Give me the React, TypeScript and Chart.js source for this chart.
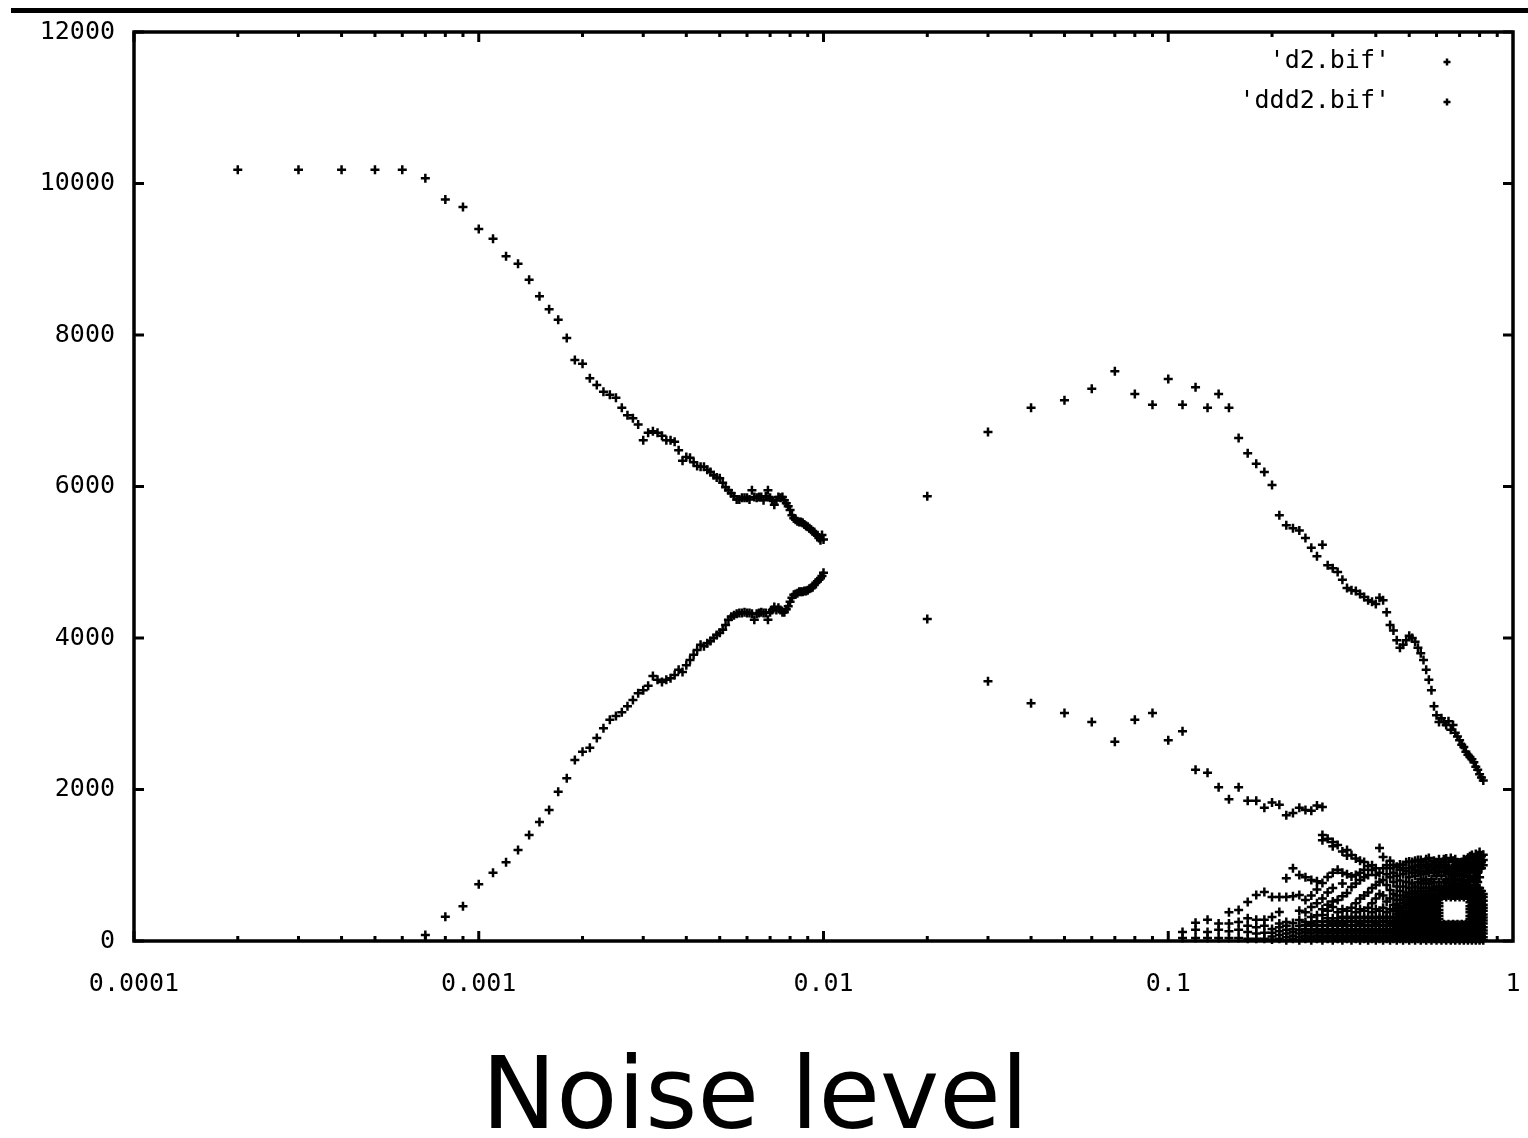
import React, { useEffect, useRef } from "react";
import { Chart, registerables } from "chart.js";

Chart.register(...registerables);

// Upper branch ('d2.bif'): noise level, value
const d2Left: [number, number][] = [
  [0.0002, 10180], [0.0003, 10180], [0.0004, 10180], [0.0005, 10180], [0.0006, 10180],
  [0.0007, 10070], [0.0008, 9790], [0.0009, 9690], [0.001, 9400], [0.0011, 9270],
  [0.0012, 9040], [0.0013, 8940], [0.0014, 8730], [0.0015, 8510], [0.0016, 8340],
  [0.0017, 8200], [0.0018, 7960], [0.0019, 7670], [0.002, 7620], [0.0021, 7430],
  [0.0022, 7340], [0.0023, 7250], [0.0024, 7210], [0.0025, 7170], [0.0026, 7040],
  [0.0027, 6940], [0.0028, 6900], [0.0029, 6820], [0.003, 6610], [0.0031, 6710],
  [0.0032, 6730], [0.0033, 6710], [0.0034, 6670], [0.0035, 6610], [0.0036, 6610],
  [0.0037, 6590], [0.0038, 6480], [0.0039, 6340], [0.004, 6390], [0.0041, 6380],
  [0.0042, 6320], [0.0043, 6270], [0.0044, 6260], [0.0045, 6260], [0.0046, 6220],
  [0.0047, 6190], [0.0048, 6150], [0.0049, 6120], [0.005, 6110], [0.0051, 6050],
  [0.0052, 5990], [0.0053, 5950], [0.0054, 5910], [0.0055, 5870], [0.0056, 5830],
  [0.0057, 5830], [0.0058, 5850], [0.0059, 5850], [0.006, 5850], [0.0061, 5830],
  [0.0062, 5950], [0.0063, 5860], [0.0064, 5850], [0.0065, 5860], [0.0066, 5860],
  [0.0067, 5820], [0.0068, 5870], [0.0069, 5950], [0.007, 5850], [0.0071, 5820],
  [0.0072, 5760], [0.0073, 5820], [0.0074, 5860], [0.0075, 5850], [0.0076, 5860],
  [0.0077, 5820], [0.0078, 5780], [0.0079, 5740], [0.008, 5690], [0.0081, 5620],
  [0.0082, 5580], [0.0083, 5560], [0.0084, 5540], [0.0085, 5530], [0.0086, 5530],
  [0.0087, 5520], [0.0088, 5500], [0.0089, 5480], [0.009, 5470], [0.0091, 5450],
  [0.0092, 5430], [0.0093, 5410], [0.0094, 5400], [0.0095, 5370], [0.0096, 5350],
  [0.0097, 5320], [0.0098, 5290], [0.0099, 5360], [0.01, 5300],
];

const d2Right: [number, number][] = [
  [0.02, 5870], [0.03, 6720], [0.04, 7040], [0.05, 7140], [0.06, 7290],
  [0.07, 7520], [0.08, 7220], [0.09, 7080], [0.1, 7420], [0.11, 7080],
  [0.12, 7310], [0.13, 7040], [0.14, 7220], [0.15, 7040], [0.16, 6640],
  [0.17, 6440], [0.18, 6300], [0.19, 6190], [0.2, 6020], [0.21, 5620],
  [0.22, 5490], [0.23, 5450], [0.24, 5420], [0.25, 5320], [0.26, 5190],
  [0.27, 5080], [0.28, 5230], [0.29, 4960], [0.3, 4920], [0.31, 4870],
  [0.32, 4770], [0.33, 4660], [0.34, 4630], [0.35, 4620], [0.36, 4580],
  [0.37, 4540], [0.38, 4500], [0.39, 4480], [0.4, 4450], [0.41, 4530],
  [0.42, 4500], [0.43, 4340], [0.44, 4170], [0.45, 4100], [0.46, 3970],
  [0.47, 3870], [0.48, 3910], [0.49, 3970], [0.5, 4030], [0.51, 4000],
  [0.52, 3950], [0.53, 3870], [0.54, 3800], [0.55, 3710], [0.56, 3580],
  [0.57, 3450], [0.58, 3310], [0.59, 3100], [0.6, 2980], [0.61, 2890],
  [0.62, 2940], [0.63, 2890], [0.64, 2850], [0.65, 2900], [0.66, 2790],
  [0.67, 2850], [0.68, 2750], [0.69, 2700], [0.7, 2650], [0.71, 2590],
  [0.72, 2560], [0.73, 2500], [0.74, 2460], [0.75, 2430], [0.76, 2400],
  [0.77, 2360], [0.78, 2300], [0.79, 2260], [0.8, 2200], [0.81, 2160],
  [0.82, 2120],
];

// Lower branch ('ddd2.bif')
const ddd2Left: [number, number][] = [
  [0.0007, 80], [0.0008, 320], [0.0009, 460], [0.001, 750], [0.0011, 900],
  [0.0012, 1040], [0.0013, 1200], [0.0014, 1400], [0.0015, 1570], [0.0016, 1730],
  [0.0017, 1970], [0.0018, 2150], [0.0019, 2390], [0.002, 2500], [0.0021, 2550],
  [0.0022, 2680], [0.0023, 2810], [0.0024, 2920], [0.0025, 2970], [0.0026, 3020],
  [0.0027, 3100], [0.0028, 3180], [0.0029, 3270], [0.003, 3310], [0.0031, 3370],
  [0.0032, 3500], [0.0033, 3450], [0.0034, 3420], [0.0035, 3450], [0.0036, 3470],
  [0.0037, 3510], [0.0038, 3580], [0.0039, 3550], [0.004, 3640], [0.0041, 3710],
  [0.0042, 3780], [0.0043, 3840], [0.0044, 3910], [0.0045, 3890], [0.0046, 3930],
  [0.0047, 3960], [0.0048, 4000], [0.0049, 4040], [0.005, 4070], [0.0051, 4110],
  [0.0052, 4170], [0.0053, 4240], [0.0054, 4280], [0.0055, 4300], [0.0056, 4320],
  [0.0057, 4330], [0.0058, 4330], [0.0059, 4340], [0.006, 4330], [0.0061, 4330],
  [0.0062, 4320], [0.0063, 4240], [0.0064, 4320], [0.0065, 4330], [0.0066, 4340],
  [0.0067, 4330], [0.0068, 4330], [0.0069, 4240], [0.007, 4340], [0.0071, 4370],
  [0.0072, 4410], [0.0073, 4370], [0.0074, 4400], [0.0075, 4370], [0.0076, 4340],
  [0.0077, 4340], [0.0078, 4380], [0.0079, 4420], [0.008, 4480], [0.0081, 4530],
  [0.0082, 4570], [0.0083, 4580], [0.0084, 4590], [0.0085, 4610], [0.0086, 4610],
  [0.0087, 4610], [0.0088, 4620], [0.0089, 4620], [0.009, 4630], [0.0091, 4650],
  [0.0092, 4660], [0.0093, 4670], [0.0094, 4700], [0.0095, 4730], [0.0096, 4750],
  [0.0097, 4770], [0.0098, 4790], [0.0099, 4820], [0.01, 4860],
];

const ddd2Right: [number, number][] = [
  [0.02, 4250], [0.03, 3430], [0.04, 3140], [0.05, 3010], [0.06, 2890],
  [0.07, 2630], [0.08, 2920], [0.09, 3010], [0.1, 2650], [0.11, 2770],
  [0.12, 2260], [0.13, 2220], [0.14, 2030], [0.15, 1870], [0.16, 2030],
  [0.17, 1850], [0.18, 1850], [0.19, 1760], [0.2, 1830], [0.21, 1800],
  [0.22, 1660], [0.23, 1690], [0.24, 1760], [0.25, 1730], [0.26, 1720],
  [0.27, 1790], [0.28, 1770],
];

// Multi-valued cloud at high noise: one noise level, several values
const cloudX: number[] = [
  0.11, 0.12, 0.13, 0.14, 0.15, 0.16, 0.17, 0.18, 0.19, 0.2,
  0.21, 0.22, 0.23, 0.24, 0.25, 0.26, 0.27, 0.28, 0.29, 0.3,
  0.31, 0.32, 0.33, 0.34, 0.35, 0.36, 0.37, 0.38, 0.39, 0.4,
  0.41, 0.42, 0.43, 0.44, 0.45, 0.46, 0.47, 0.48, 0.49, 0.5,
  0.51, 0.52, 0.53, 0.54, 0.55, 0.56, 0.57, 0.58, 0.59, 0.6,
  0.61, 0.62, 0.63, 0.64, 0.65, 0.66, 0.67, 0.68, 0.69, 0.7,
  0.71, 0.72, 0.73, 0.74, 0.75, 0.76, 0.77, 0.78, 0.79, 0.8,
  0.81, 0.82,
];
const cloudY: number[][] = [
  [40, 120],
  [40, 150, 240],
  [40, 120, 280],
  [40, 150, 230],
  [40, 130, 230, 380],
  [40, 150, 250, 410],
  [30, 120, 200, 300, 515],
  [30, 100, 180, 280, 607],
  [30, 110, 200, 280, 647],
  [20, 60, 110, 160, 317, 580],
  [30, 80, 130, 180, 230, 383, 580],
  [10, 50, 100, 150, 200, 250, 580, 830],
  [30, 70, 120, 160, 238, 590, 960],
  [10, 50, 100, 150, 200, 277, 400, 607, 870],
  [30, 70, 120, 160, 210, 250, 380, 540, 840],
  [10, 50, 100, 150, 200, 240, 317, 450, 600, 805],
  [30, 70, 120, 160, 210, 260, 340, 500, 680, 790],
  [10, 50, 100, 150, 200, 250, 343, 420, 560, 766, 1330, 1400],
  [30, 70, 120, 160, 210, 260, 300, 400, 480, 640, 845, 1350],
  [10, 50, 100, 150, 200, 240, 300, 449, 520, 700, 900, 1250, 1307],
  [30, 70, 120, 160, 210, 260, 300, 380, 541, 940, 1267],
  [10, 50, 100, 150, 200, 240, 320, 420, 590, 760, 900, 1180],
  [30, 70, 120, 160, 210, 260, 300, 400, 634, 880, 1130, 1201],
  [10, 50, 100, 150, 200, 250, 320, 440, 713, 850, 1135],
  [30, 70, 120, 160, 210, 260, 300, 380, 500, 760, 870, 1090],
  [10, 50, 100, 150, 200, 240, 320, 420, 560, 805, 900, 1060],
  [30, 70, 120, 160, 210, 260, 300, 400, 600, 840, 940, 1043],
  [10, 50, 100, 150, 200, 250, 320, 440, 640, 870, 990],
  [30, 70, 120, 160, 210, 260, 300, 380, 500, 700, 937, 1000],
  [10, 50, 100, 150, 200, 240, 320, 420, 560, 740, 870, 960],
  [30, 70, 120, 160, 210, 260, 300, 400, 620, 780, 900, 1228],
  [10, 50, 100, 150, 200, 250, 320, 440, 600, 805, 960, 1109],
  [30, 70, 120, 160, 210, 260, 300, 380, 520, 740, 880, 1000],
  [10, 50, 100, 150, 200, 240, 320, 420, 560, 673, 840, 960, 1060],
  [30, 70, 120, 160, 210, 260, 300, 400, 480, 620, 780, 900, 1003],
  [10, 50, 100, 140, 180, 230, 270, 320, 360, 400, 440, 490, 540, 600, 720, 860, 980],
  [30, 70, 120, 160, 200, 250, 290, 340, 380, 420, 460, 541, 660, 800, 940, 1010],
  [10, 50, 90, 140, 180, 220, 260, 310, 350, 400, 450, 500, 560, 600, 720, 880, 960, 1003],
  [30, 70, 110, 160, 200, 240, 290, 330, 370, 436, 480, 520, 580, 640, 780, 920, 1040],
  [10, 50, 100, 140, 180, 230, 270, 310, 350, 400, 440, 490, 540, 580, 620, 700, 840, 960, 1050],
  [30, 70, 120, 160, 200, 250, 290, 330, 380, 420, 460, 500, 560, 620, 660, 760, 900, 980, 1043],
  [10, 50, 90, 140, 180, 220, 260, 310, 350, 390, 440, 480, 530, 580, 640, 720, 860, 940, 1060],
  [30, 70, 110, 160, 200, 240, 290, 330, 370, 410, 460, 500, 550, 600, 660, 780, 920, 1000, 1070],
  [10, 50, 100, 140, 180, 230, 270, 310, 350, 400, 440, 480, 530, 580, 620, 700, 820, 900, 980, 1069],
  [30, 70, 120, 160, 200, 250, 290, 330, 380, 420, 460, 510, 560, 600, 660, 760, 880, 960, 1040],
  [10, 50, 90, 140, 180, 220, 260, 310, 350, 390, 440, 480, 530, 580, 620, 700, 800, 920, 1000, 1080],
  [30, 70, 110, 160, 200, 240, 290, 330, 370, 410, 460, 500, 550, 600, 660, 760, 900, 980, 1096],
  [10, 50, 100, 140, 180, 230, 270, 310, 350, 400, 440, 480, 530, 580, 620, 700, 820, 940, 1020],
  [30, 70, 120, 160, 200, 250, 290, 330, 380, 420, 460, 510, 560, 600, 680, 780, 900, 980, 1060],
  [10, 50, 90, 140, 180, 220, 260, 310, 350, 390, 440, 480, 530, 580, 620, 720, 860, 960, 1040],
  [30, 70, 110, 160, 200, 240, 290, 330, 370, 410, 460, 500, 550, 600, 660, 780, 920, 1000, 1080],
  [10, 50, 90, 140, 180, 210, 580, 620, 660, 720, 860, 960, 1040],
  [30, 70, 110, 160, 200, 220, 600, 640, 680, 780, 920, 1000, 1080],
  [10, 50, 90, 140, 180, 210, 580, 620, 660, 700, 800, 920, 1000, 1090],
  [30, 70, 110, 160, 200, 220, 600, 640, 680, 760, 880, 960, 1040],
  [10, 50, 90, 140, 180, 210, 580, 620, 660, 700, 820, 940, 1096],
  [30, 70, 110, 160, 200, 220, 600, 640, 680, 740, 860, 980, 1060],
  [10, 50, 90, 140, 180, 210, 580, 620, 660, 700, 800, 920, 1000, 1080],
  [30, 70, 110, 160, 200, 220, 600, 640, 680, 760, 880, 960, 1040],
  [10, 50, 90, 140, 180, 210, 580, 620, 660, 700, 820, 940, 1020],
  [30, 70, 110, 160, 200, 220, 600, 640, 680, 740, 860, 980, 1043],
  [10, 50, 90, 140, 180, 210, 580, 620, 660, 700, 800, 920, 1000, 1080],
  [30, 70, 110, 160, 200, 220, 600, 640, 680, 760, 880, 960, 1060],
  [10, 50, 100, 140, 180, 210, 580, 620, 660, 720, 840, 940, 1020, 1100],
  [30, 70, 120, 160, 200, 250, 290, 330, 380, 420, 460, 510, 560, 600, 660, 780, 900, 980, 1120],
  [10, 50, 90, 140, 180, 220, 260, 310, 350, 390, 440, 480, 530, 580, 620, 700, 820, 940, 1040, 1135],
  [30, 70, 110, 160, 200, 240, 290, 330, 370, 410, 460, 500, 550, 600, 680, 800, 920, 1000, 1080],
  [10, 50, 100, 140, 180, 230, 270, 310, 350, 400, 440, 480, 530, 580, 620, 720, 860, 960, 1060, 1150],
  [30, 70, 120, 160, 200, 250, 290, 330, 380, 420, 460, 510, 560, 600, 660, 780, 900, 1000, 1100],
  [10, 50, 90, 140, 180, 220, 260, 310, 350, 390, 440, 480, 530, 580, 620, 700, 840, 960, 1060, 1175],
  [30, 70, 110, 160, 200, 240, 290, 330, 370, 410, 460, 500, 550, 600, 660, 960, 1040, 1120],
  [10, 50, 100, 140, 180, 230, 270, 310, 350, 400, 440, 480, 530, 580, 620, 1000, 1069, 1140],
];

const seriesNames = ["'d2.bif'", "'ddd2.bif'"];
const xTickValues = [0.0001, 0.001, 0.01, 0.1, 1];
const xTickLabels = ["0.0001", "0.001", "0.01", "0.1", "1"];
const yTickValues = [0, 2000, 4000, 6000, 8000, 10000, 12000];
const xTitle = "Noise level";

const MONO = '"DejaVu Sans Mono", "Liberation Mono", monospace';
const INK = "#000";

const toPoints = (pairs: [number, number][]) => pairs.map(([x, y]) => ({ x, y }));

const cloudPoints = cloudX.flatMap((x, i) => cloudY[i].map((y) => ({ x, y })));

function drawCross(ctx: CanvasRenderingContext2D, x: number, y: number, r: number) {
  ctx.beginPath();
  ctx.moveTo(x - r, y);
  ctx.lineTo(x + r, y);
  ctx.moveTo(x, y - r);
  ctx.lineTo(x, y + r);
  ctx.stroke();
}

// Frame, inward tick marks, key, heading rule and axis caption, gnuplot style
const decorations = {
  id: "gnuplotDecor",
  afterDatasetsDraw(chart: any) {
    const { ctx, chartArea, scales } = chart;
    const { left, right, top, bottom } = chartArea;
    const xs = scales.x;
    const ys = scales.y;
    ctx.save();
    ctx.strokeStyle = INK;
    ctx.fillStyle = INK;
    ctx.lineCap = "butt";

    // y ticks on both sides
    ctx.lineWidth = 3;
    for (const v of yTickValues) {
      const py = ys.getPixelForValue(v);
      ctx.beginPath();
      ctx.moveTo(left, py);
      ctx.lineTo(left + 10, py);
      ctx.moveTo(right, py);
      ctx.lineTo(right - 10, py);
      ctx.stroke();
    }

    // x ticks: decades long, 2..9 short, top and bottom
    for (let e = -4; e < 0; e++) {
      for (let m = 1; m <= 9; m++) {
        const v = m * Math.pow(10, e);
        const px = xs.getPixelForValue(v);
        const len = m === 1 ? 10 : 5;
        ctx.lineWidth = 3;
        ctx.beginPath();
        ctx.moveTo(px, bottom);
        ctx.lineTo(px, bottom - len);
        ctx.moveTo(px, top);
        ctx.lineTo(px, top + len);
        ctx.stroke();
      }
    }

    // frame
    ctx.lineWidth = 3.5;
    ctx.strokeRect(left, top, right - left, bottom - top);

    // key
    ctx.font = `25px ${MONO}`;
    ctx.textAlign = "right";
    ctx.textBaseline = "middle";
    const keyY = [61, 101];
    seriesNames.forEach((name, i) => {
      ctx.fillText(name, 1390, keyY[i]);
      ctx.lineWidth = 2.5;
      drawCross(ctx, 1447, keyY[i] + 1, 3.5);
    });

    // heading rule
    ctx.fillRect(11, 8, 1517, 5);

    // axis caption
    ctx.font = '100px "DejaVu Sans", Verdana, sans-serif';
    ctx.textAlign = "center";
    ctx.textBaseline = "alphabetic";
    ctx.fillText(xTitle, 755, 1128);
    ctx.restore();
  },
};

const pointStyleOpts = {
  showLine: false,
  pointStyle: "cross" as const,
  pointRadius: 4.5,
  pointBorderWidth: 2.5,
  borderColor: INK,
  backgroundColor: INK,
  pointHoverRadius: 4.5,
  clip: false as const,
};

export default function App() {
  const canvasRef = useRef<HTMLCanvasElement>(null);

  useEffect(() => {
    const canvas = canvasRef.current;
    if (!canvas) return;
    const chart = new Chart(canvas, {
      type: "scatter",
      data: {
        datasets: [
          {
            label: seriesNames[0],
            data: [...toPoints(d2Left), ...toPoints(d2Right)],
            ...pointStyleOpts,
          },
          {
            label: seriesNames[1],
            data: [...toPoints(ddd2Left), ...toPoints(ddd2Right), ...cloudPoints],
            ...pointStyleOpts,
          },
        ],
      },
      options: {
        responsive: false,
        animation: false,
        events: [],
        layout: { padding: { left: 0, top: 32, right: 15, bottom: 137 } },
        plugins: {
          legend: { display: false },
          tooltip: { enabled: false },
          title: { display: false },
        },
        scales: {
          x: {
            type: "logarithmic",
            min: 0.0001,
            max: 1,
            grid: { display: false, drawTicks: false },
            border: { display: false },
            afterBuildTicks: (s: any) => {
              s.ticks = xTickValues.map((v) => ({ value: v }));
            },
            afterFit: (s: any) => {
              s.height = 60;
              s.paddingLeft = 0;
              s.paddingRight = 0;
            },
            ticks: {
              autoSkip: false,
              maxRotation: 0,
              padding: 28,
              color: INK,
              font: { family: MONO, size: 25 },
              callback: (value: any) => {
                const i = xTickValues.findIndex((v) => Math.abs(v - Number(value)) < v * 1e-6);
                return i >= 0 ? xTickLabels[i] : "";
              },
            },
          },
          y: {
            type: "linear",
            min: 0,
            max: 12000,
            grid: { display: false, drawTicks: false },
            border: { display: false },
            afterBuildTicks: (s: any) => {
              s.ticks = yTickValues.map((v) => ({ value: v }));
            },
            afterFit: (s: any) => {
              s.width = 134;
              s.paddingTop = 0;
              s.paddingBottom = 0;
            },
            ticks: {
              padding: 19,
              color: INK,
              font: { family: MONO, size: 25 },
              callback: (value: any) => String(value),
            },
          },
        },
      },
      plugins: [decorations],
    });
    return () => chart.destroy();
  }, []);

  return (
    <div
      style={{
        position: "absolute",
        left: 0,
        top: 0,
        width: 1528,
        height: 1138,
        background: "#fff",
      }}
    >
      <canvas
        ref={canvasRef}
        width={1528}
        height={1138}
        style={{ display: "block", width: 1528, height: 1138 }}
      />
    </div>
  );
}
